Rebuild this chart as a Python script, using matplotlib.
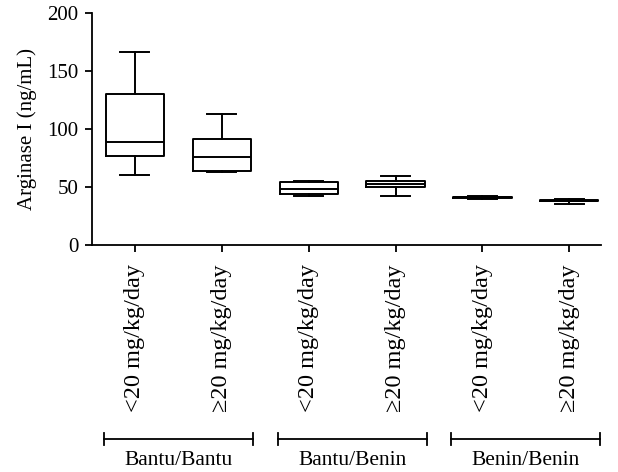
import matplotlib
matplotlib.use("Agg")
import matplotlib.pyplot as plt
from matplotlib.transforms import blended_transform_factory

# Box summary values (ng/mL)
dose_labels = ["<20 mg/kg/day", "\u226520 mg/kg/day"] * 3
groups = ["Bantu/Bantu", "Bantu/Benin", "Benin/Benin"]
whisker_low = [60, 63, 42.5, 42, 39.5, 35.5]
q1 = [77, 64, 44, 50, 40.3, 37.6]
median = [89, 76, 48.5, 53, 41, 38]
q3 = [130, 91, 54, 55.5, 41.7, 38.4]
whisker_high = [166, 113, 55.5, 59.5, 42.5, 40]
y_ticks = [0, 50, 100, 150, 200]

plt.rcParams["font.family"] = ["Liberation Serif", "DejaVu Serif"]

stats = [
    {"whislo": lo, "q1": a, "med": m, "q3": b, "whishi": hi, "fliers": []}
    for lo, a, m, b, hi in zip(whisker_low, q1, median, q3, whisker_high)
]
positions = list(range(1, len(stats) + 1))

fig = plt.figure(figsize=(6.18, 4.72), dpi=100)
ax = fig.add_axes([0.1489, 0.4809, 0.823, 0.4916])

lw = 1.4
line = dict(color="black", linewidth=lw)
ax.bxp(
    stats,
    positions=positions,
    widths=0.67,
    showfliers=False,
    boxprops=line,
    medianprops=line,
    whiskerprops=line,
    capprops=line,
)

ax.set_xlim(0.506, 6.36)
ax.set_ylim(0, 200)
ax.set_yticks(y_ticks)
ax.set_xticks(positions)
ax.set_xticklabels(dose_labels, rotation=90, fontsize=17.5)
ax.tick_params(axis="y", labelsize=15, length=5, width=1.3, pad=5)
ax.tick_params(axis="x", length=5, width=1.3, pad=9)
ax.set_ylabel("Arginase I (ng/mL)", fontsize=15, labelpad=7)
for side in ("top", "right"):
    ax.spines[side].set_visible(False)
for side in ("left", "bottom"):
    ax.spines[side].set_linewidth(1.3)

# group brackets under the tick labels
trans = blended_transform_factory(ax.transData, ax.transAxes)
for i, name in enumerate(groups):
    mid = 1.5 + 2 * i
    x0, x1 = mid - 0.857, mid + 0.857
    ax.plot([x0, x1], [-0.836, -0.836], color="black", lw=1.3, transform=trans, clip_on=False)
    for x in (x0, x1):
        ax.plot([x, x], [-0.81, -0.862], color="black", lw=1.3, transform=trans, clip_on=False)
    ax.text(mid, -0.93, name, ha="center", va="center", fontsize=15.5, transform=trans)

fig.savefig("out.png", dpi=100)
